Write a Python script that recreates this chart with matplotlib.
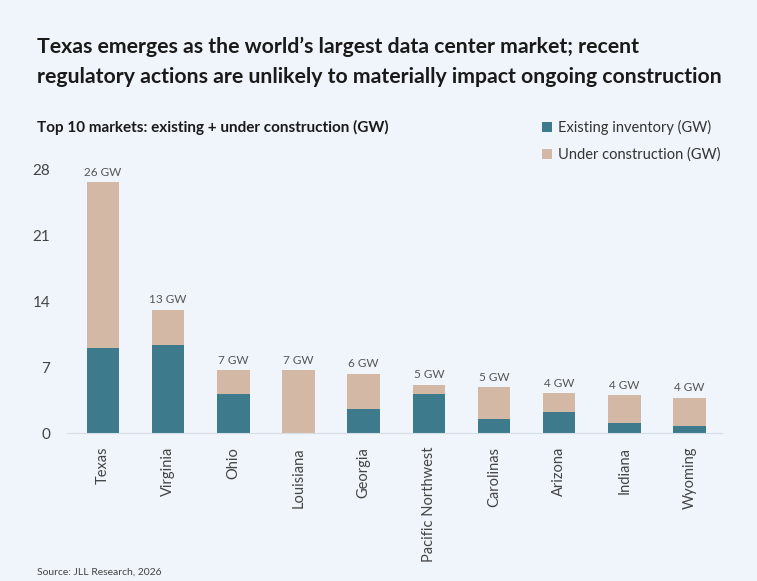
import matplotlib.pyplot as plt
import numpy as np

plt.rcParams['font.family'] = ['Lato', 'DejaVu Sans']

# data (GW)
markets = ['Texas', 'Virginia', 'Ohio', 'Louisiana', 'Georgia',
           'Pacific Northwest', 'Carolinas', 'Arizona', 'Indiana', 'Wyoming']
existing = [9.0, 9.3, 4.1, 0.0, 2.5, 4.1, 1.5, 2.2, 1.1, 0.7]
construction = [17.6, 3.8, 2.55, 6.65, 3.8, 1.0, 3.35, 2.0, 2.9, 3.0]
total_labels = ['26 GW', '13 GW', '7 GW', '7 GW', '6 GW',
                '5 GW', '5 GW', '4 GW', '4 GW', '4 GW']
yticks = [0, 7, 14, 21, 28]

bg = '#EFF5FA'
teal = '#3D7A8B'
beige = '#D3B9A5'

fig = plt.figure(figsize=(7.57, 5.81), dpi=100, facecolor=bg)
ax = fig.add_axes([0.0885, 0.2547, 0.8655, 0.4543])
ax.set_facecolor(bg)

x = np.arange(len(markets))
ax.bar(x, existing, width=0.5, color=teal, label='Existing inventory (GW)')
ax.bar(x, construction, width=0.5, bottom=existing, color=beige,
       label='Under construction (GW)')

tops = np.array(existing) + np.array(construction)
for xi, t, lab in zip(x, tops, total_labels):
    ax.text(xi, t + 0.5, lab, ha='center', va='bottom', fontsize=8.5,
            color='#555555', clip_on=False)

ax.set_xlim(-0.55, 9.5)
ax.set_ylim(0, 28)
ax.set_yticks(yticks)
ax.tick_params(axis='y', length=0, labelsize=11, labelcolor='#444444', pad=12)
ax.set_xticks(x)
ax.set_xticklabels(markets, rotation=90, fontsize=10.5, color='#444444')
ax.tick_params(axis='x', length=0, pad=10)
for s in ['top', 'right', 'left']:
    ax.spines[s].set_visible(False)
ax.spines['bottom'].set_color('#D5DEE5')

fig.text(0.049, 0.919, "Texas emerges as the world\u2019s largest data center market; recent",
         fontsize=15.3, fontweight='bold', color='#1a1a1a', va='center')
fig.text(0.049, 0.867, "regulatory actions are unlikely to materially impact ongoing construction",
         fontsize=15.3, fontweight='bold', color='#1a1a1a', va='center')
fig.text(0.049, 0.780, "Top 10 markets: existing + under construction (GW)",
         fontsize=11, fontweight='bold', color='#1a1a1a', va='center')
fig.text(0.049, 0.016, "Source: JLL Research, 2026", fontsize=7.5,
         color='#444444', va='center')

ax.legend(loc='upper left', bbox_to_anchor=(0.705, 1.235), frameon=False,
          fontsize=10.5, handlelength=0.7, handleheight=0.7, handletextpad=0.4,
          labelspacing=0.85, labelcolor='#333333')

fig.savefig('out.png', dpi=100, facecolor=bg)
